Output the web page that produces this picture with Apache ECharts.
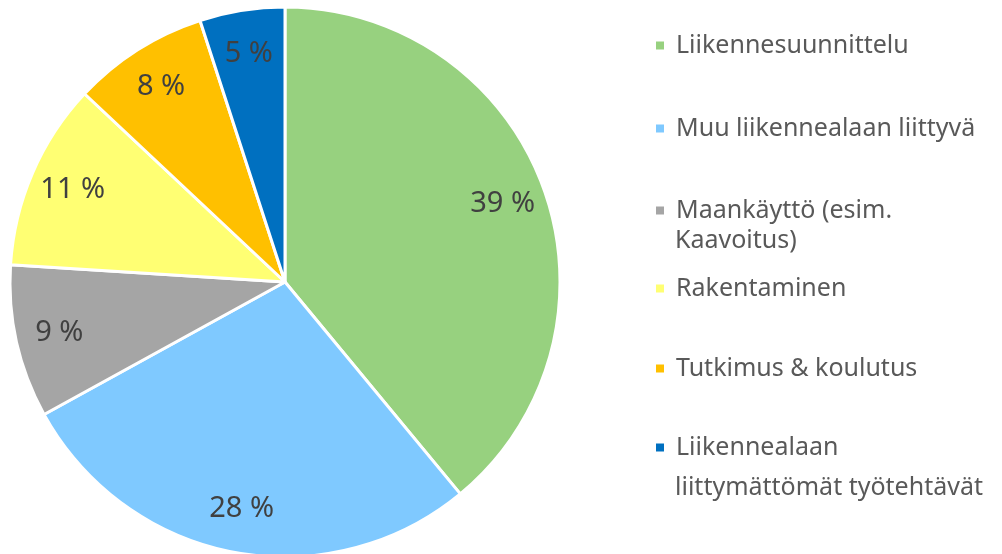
<!DOCTYPE html>
<html><head><meta charset="utf-8">
<script src="https://cdn.jsdelivr.net/npm/echarts@6/dist/echarts.min.js"></script>
<style>html,body{margin:0;padding:0;background:#fff}#c{width:1002px;height:554px}</style>
</head><body><div id="c"></div>
<script>
const categories = ['Liikennesuunnittelu','Muu liikennealaan liittyvä','Maankäyttö (esim. Kaavoitus)','Rakentaminen','Tutkimus & koulutus','Liikennealaan liittymättömät työtehtävät'];
const values = [39, 28, 9, 11, 8, 5];
const legendFirstLines = ['Liikennesuunnittelu','Muu liikennealaan liittyvä','Maankäyttö (esim.','Rakentaminen','Tutkimus & koulutus','Liikennealaan'];
const legendSecondLines = ['', '', 'Kaavoitus)', '', '', 'liittymättömät työtehtävät'];
const colors = ['#97D17F','#7FC9FF','#A5A5A5','#FFFF73','#FFC000','#0070C0'];

const chart = echarts.init(document.getElementById('c'), null, {renderer:'canvas'});
const FONT = 'Noto Sans';
const cx = 285, cy = 282, R = 275;
const legendTops = [45, 128, 210, 288, 368, 447];
const data = categories.map((n,i)=>({name:n, value:values[i], itemStyle:{color:colors[i]}}));
const legends = categories.map((n,i)=>({
  data:[n], orient:'vertical', left:654, top:legendTops[i]-12, height:32, padding:0,
  itemWidth:10, itemHeight:10, icon:'rect', itemGap:0,
  selectedMode:false,
  formatter: () => legendFirstLines[i],
  textStyle:{fontFamily:FONT, fontSize:25, color:'#595959', padding:[0,0,0,6]}
}));
const graphics = [];
legendSecondLines.forEach((t,i)=>{
  if(!t) return;
  graphics.push({type:'text', left:675, top:legendTops[i]+ (i===5?28:18),
    style:{text:t, font:'25px "'+FONT+'"', fill:'#595959'}});
});
chart.setOption({
  animation:false,
  legend: legends,
  graphic: graphics,
  series:[{
    type:'pie', center:[cx,cy], radius:[0,R], startAngle:90, clockwise:true,
    data: data,
    itemStyle:{borderColor:'#fff', borderWidth:3},
    label:{show:false}, labelLine:{show:false}, emphasis:{disabled:true}
  },{
    type:'pie', center:[cx,cy], radius:[R*0.66,R], startAngle:90, clockwise:true,
    silent:true, legendHoverLink:false,
    data: categories.map((n,i)=>({name:n, value:values[i], itemStyle:{color:'rgba(0,0,0,0)'}})),
    itemStyle:{borderWidth:0},
    label:{show:true, position:'inside', formatter:p=>p.value+' %', fontFamily:FONT, fontSize:29, color:'#404040'},
    labelLine:{show:false}, emphasis:{disabled:true}
  }]
});
</script></body></html>
